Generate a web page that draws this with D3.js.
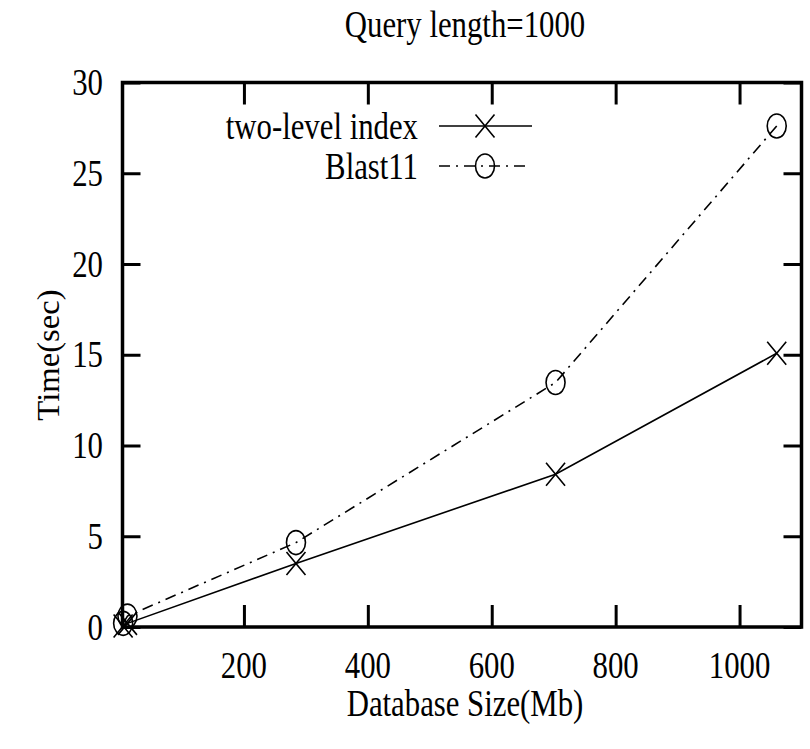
<!DOCTYPE html>
<html>
<head>
<meta charset="utf-8">
<script src="https://cdn.jsdelivr.net/npm/d3@7/dist/d3.min.js"></script>
<style>
  html, body { margin: 0; padding: 0; background: #fff; }
  svg { display: block; }
  text { font-family: "Liberation Serif", "Times New Roman", serif; fill: #000; }
</style>
</head>
<body>
<svg id="chart" width="810" height="749"></svg>
<script>
// Database sizes (Mb) and query times (sec)
const dbSize = [5, 12, 284, 703, 1060];
const twoLevel = [0.05, 0.2, 3.5, 8.42, 15.08];
const blast11 = [0.2, 0.6, 4.65, 13.47, 27.6];
const xTicks = [200, 400, 600, 800, 1000];
const yTicks = [0, 5, 10, 15, 20, 25, 30];
const seriesNames = ["two-level index", "Blast11"];

(function () {
const svg = d3.select("#chart");
const padL = 122.5, padR = 801.5, padT = 82.5, padB = 627;
const FS = 38, SX = 0.81; // serif face, narrowed horizontally

const x = d3.scaleLinear().domain([4, 1100]).range([padL, padR]);
const y = d3.scaleLinear().domain([0, 30]).range([padB, padT]);

function label(g, tx, ty, str, anchor, size) {
  g.append("text")
    .attr("transform", `translate(${tx},${ty}) scale(${SX},1)`)
    .attr("text-anchor", anchor || "middle")
    .attr("font-size", size || FS)
    .text(str);
}

// Axes: ticks point inward, mirrored on top and right
const tickLenX = 22, tickLenY = 18;
const bottomAxis = d3.axisBottom(x).tickValues(xTicks).tickSize(-tickLenX).tickFormat("");
const topAxis = d3.axisTop(x).tickValues(xTicks).tickSize(-tickLenX).tickFormat("");
const leftAxis = d3.axisLeft(y).tickValues(yTicks).tickSize(-tickLenY).tickFormat("");
const rightAxis = d3.axisRight(y).tickValues(yTicks).tickSize(-tickLenY).tickFormat("");

function styleAxis(g) {
  g.select(".domain").remove();
  g.selectAll(".tick line").attr("stroke", "#000").attr("stroke-width", 3);
}
svg.append("g").attr("transform", `translate(0,${padB})`).call(bottomAxis).call(styleAxis);
svg.append("g").attr("transform", `translate(0,${padT})`).call(topAxis).call(styleAxis);
svg.append("g").attr("transform", `translate(${padL},0)`).call(leftAxis).call(styleAxis);
svg.append("g").attr("transform", `translate(${padR},0)`).call(rightAxis).call(styleAxis);

// Frame
svg.append("rect")
  .attr("x", padL).attr("y", padT)
  .attr("width", padR - padL).attr("height", padB - padT)
  .attr("fill", "none").attr("stroke", "#000").attr("stroke-width", 3.5);

// Tick labels
const labels = svg.append("g");
xTicks.forEach(v => label(labels, x(v), 678, String(v)));
yTicks.forEach(v => label(labels, 103, y(v) + 12.5, String(v), "end"));

// Titles
label(svg, 465, 37, "Query length=1000");
label(svg, 465, 716, "Database Size(Mb)");
svg.append("g").attr("opacity", 0.999)
  .append("text")
  .attr("transform", `translate(59,355) rotate(-90) scale(0.86,${SX})`)
  .attr("text-anchor", "middle")
  .attr("font-size", FS)
  .text("Time(sec)");

// Markers
function cross(g, cx, cy) {
  g.append("path")
    .attr("d", `M${cx - 9.5},${cy - 11.5}L${cx + 9.5},${cy + 11.5}M${cx - 9.5},${cy + 11.5}L${cx + 9.5},${cy - 11.5}`)
    .attr("stroke", "#000").attr("stroke-width", 1.6).attr("fill", "none");
}
function ring(g, cx, cy) {
  g.append("ellipse")
    .attr("cx", cx).attr("cy", cy).attr("rx", 9.5).attr("ry", 12)
    .attr("stroke", "#000").attr("stroke-width", 1.6).attr("fill", "none");
}

const line = d3.line().x(d => x(d[0])).y(d => y(d[1]));
const dashPattern = "11,6,2,6";

const plot = svg.append("g");
const twoPts = dbSize.map((d, i) => [d, twoLevel[i]]);
const blastPts = dbSize.map((d, i) => [d, blast11[i]]);

plot.append("path").attr("d", line(twoPts))
  .attr("fill", "none").attr("stroke", "#000").attr("stroke-width", 1.6);
twoPts.forEach(p => cross(plot, x(p[0]), y(p[1])));

plot.append("path").attr("d", line(blastPts))
  .attr("fill", "none").attr("stroke", "#000").attr("stroke-width", 1.6)
  .attr("stroke-dasharray", dashPattern);
blastPts.forEach(p => ring(plot, x(p[0]), y(p[1])));

// Legend
const legend = svg.append("g");
const rows = [126, 166];
label(legend, 418, rows[0] + 12.5, seriesNames[0], "end");
label(legend, 418, rows[1] + 12.5, seriesNames[1], "end");
legend.append("line").attr("x1", 439).attr("x2", 532).attr("y1", rows[0]).attr("y2", rows[0])
  .attr("stroke", "#000").attr("stroke-width", 1.6);
cross(legend, 485, rows[0]);
legend.append("line").attr("x1", 439).attr("x2", 525).attr("y1", rows[1]).attr("y2", rows[1])
  .attr("stroke", "#000").attr("stroke-width", 1.6).attr("stroke-dasharray", dashPattern);
ring(legend, 485, rows[1]);
})();
</script>
</body>
</html>
